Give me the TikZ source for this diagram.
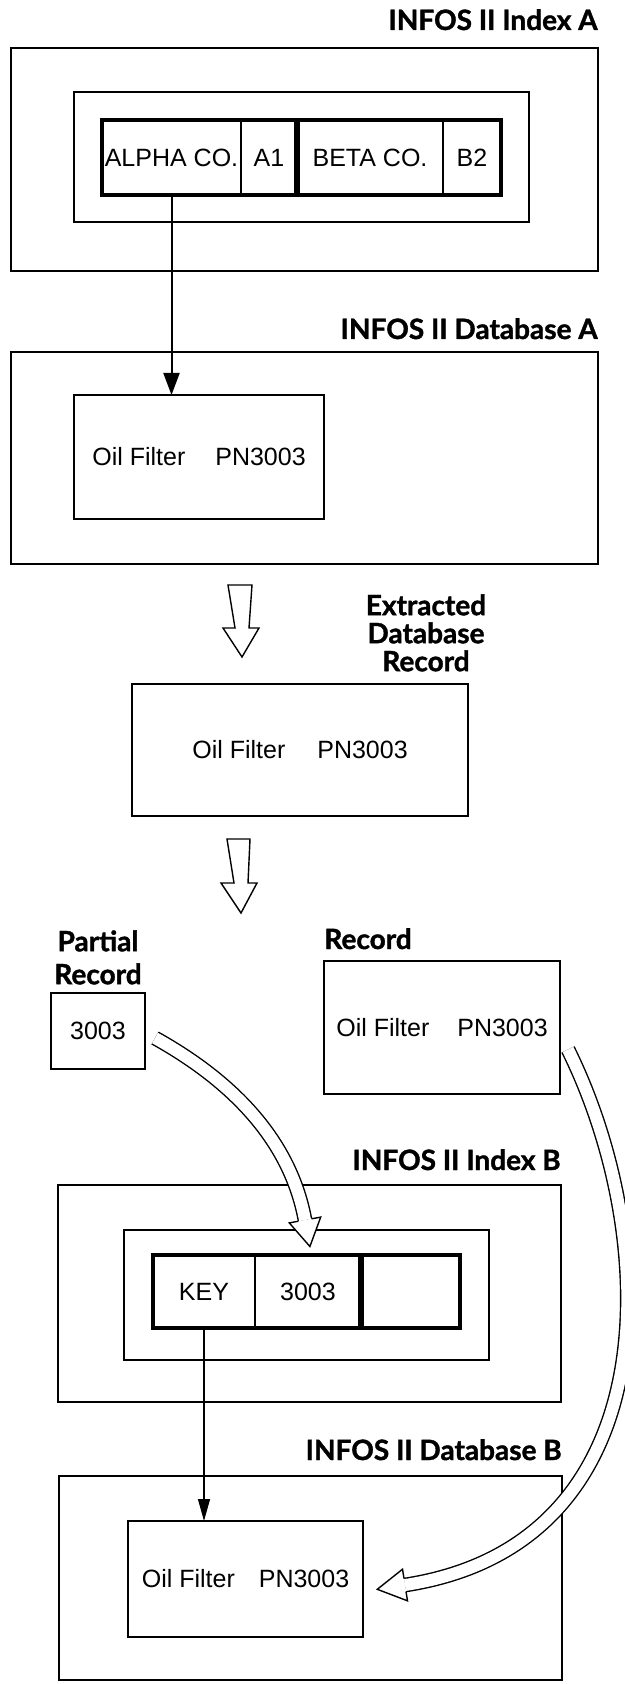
\documentclass[tikz,border=0pt]{standalone}
\usepackage{fontspec}
\setmainfont{Liberation Sans}
\newfontfamily\titlefont{Lato}[BoldFeatures={FakeBold=1.3}]
\usepackage{tikz}
\usetikzlibrary{calc,arrows.meta}

\begin{document}
\begin{tikzpicture}
		[x=0.5pt,y=-0.5pt,line join=miter,
		%Styles
		every node/.append style={font=\fontsize{12.5}{15}\selectfont},
		box/.style 2 args={draw,line width=1.1pt,inner sep=0pt,outer sep=0pt,minimum width=#1*0.5pt,minimum height=#2*0.5pt},
		cell/.style 2 args={draw,line width=1.3pt,inner sep=0pt,outer sep=0pt,minimum width=#1*0.5pt,minimum height=#2*0.5pt},
		row line/.style={line width=2pt},
		divider/.style={line width=3pt},
		title/.style={font=\titlefont\bfseries\fontsize{14}{14}\selectfont,inner sep=0pt,anchor=base east},
		link/.style={line width=1pt,-{Triangle[length=11pt,width=8pt]}},
		hollow/.style={draw,fill=white,line width=0.7pt},
		hollow shaft/.style={line width=0.7pt,double=white,double distance=6pt},
		hollow head/.style={draw,fill=white,line width=0.7pt}
		]
		
		\useasboundingbox (0,0) rectangle (625,1684);
		
		%Index A
		\node[box={587}{223}] (idxA) at (304.5,159.5) {};
		\node[box={455}{130}] (idxAin) at (301.5,157) {};
		\node[cell={139}{75}] (alpha) at (171.5,157.5) {ALPHA CO.};
		\node[cell={56}{75}] (aone) at (269,157.5) {A1};
		\node[cell={146}{75}] (beta) at (370,157.5) {BETA CO.};
		\node[cell={58}{75}] (btwo) at (472,157.5) {B2};
		\draw[row line] (alpha.north west) rectangle (btwo.south east);
		\draw[divider] (beta.north west) -- (beta.south west);
		\node[title] (tIdxA) at ($(idxA.north east)+(0,-18)$) {INFOS II Index A};
		
		%Database A
		\node[box={587}{212}] (dbA) at (304.5,458) {};
		\node[box={250}{124}] (recA) at (199,457) {Oil Filter\hspace{15pt}PN3003};
		\node[title] (tDbA) at ($(dbA.north east)+(0,-13)$) {INFOS II Database A};
		
		\path[link] (alpha.south) edge (alpha.south |- recA.north);
		
		%Extracted record
		\draw[hollow] (228,585) -- (252,585) -- (249,628) -- (259,628) -- (242,657) -- (223,628) -- (235,628) -- cycle;
		\node[title,anchor=north,align=center] (tExt) at (426,594) {Extracted\\Database\\Record};
		\node[box={336}{132}] (ext) at (300,750) {Oil Filter\hspace{16pt}PN3003};
		\draw[hollow] (227,839) -- (250,839) -- (248,883) -- (257,883) -- (241,913) -- (221,883) -- (234,883) -- cycle;
		
		%Partial record and record
		\node[box={94}{76}] (part) at (98,1031) {3003};
		\node[title,anchor=north,align=center,font=\titlefont\bfseries\fontsize{14}{16.5}\selectfont] (tPart) at (98,930) {Partial\\Record};
		\node[box={236}{133}] (rec) at (442,1027.5) {Oil Filter\hspace{14pt}PN3003};
		\node[title,anchor=base west] (tRec) at (324,949) {Record};
		
		%Index B
		\node[box={503}{217}] (idxB) at (309.5,1293.5) {};
		\node[box={365}{130}] (idxBin) at (306.5,1295) {};
		\node[cell={102}{73}] (key) at (204,1291.5) {KEY};
		\node[cell={106}{73}] (num) at (308,1291.5) {3003};
		\node[cell={99}{73}] (free) at (410.5,1291.5) {};
		\draw[row line] (key.north west) rectangle (free.south east);
		\draw[divider] (free.north west) -- (free.south west);
		\node[title] (tIdxB) at ($(idxB.north east)+(0,-15)$) {INFOS II Index B};
		
		%Database B
		\node[box={503}{204}] (dbB) at (310.5,1578) {};
		\node[box={235}{116}] (recB) at (245.5,1579) {Oil Filter\hspace{12pt}PN3003};
		\node[title] (tDbB) at ($(dbB.north east)+(0,-16)$) {INFOS II Database B};
		
		\path[link,line width=0.6pt,-{Triangle[length=11pt,width=6pt]}] (key.south) edge (key.south |- recB.north);
		
		%Curved arrows
		\coordinate (pStart) at ($(part.east)+(10,7)$);
		\coordinate (pEnd) at ($(num.north)+(-3,-35)$);
		\draw[hollow shaft] (pStart) .. controls ($(pStart)+(79,44)$) and ($(pEnd)+(-14.6,-78.6)$) .. (pEnd);
		\filldraw[hollow head] ($(pEnd)+(-6.6,1.2)$) -- ($(pEnd)+(-15.7,2.9)$) -- ($(pEnd)+(4.9,26.5)$) -- ($(pEnd)+(15.7,-2.9)$) -- ($(pEnd)+(6.6,-1.2)$);
		
		\coordinate (rStart) at ($(rec.east)+(8,22)$);
		\coordinate (rEnd) at ($(recB.east)+(42,6)$);
		\draw[hollow shaft] (rStart) .. controls ($(rStart)+(92,186)$) and ($(rEnd)+(267,-41)$) .. (rEnd);
		\filldraw[hollow head] ($(rEnd)+(-1,-6.5)$) -- ($(rEnd)+(-2.5,-15.8)$) -- ($(rEnd)+(-27.7,4.3)$) -- ($(rEnd)+(2.5,15.8)$) -- ($(rEnd)+(1,6.5)$);
	\end{tikzpicture}
\end{document}
